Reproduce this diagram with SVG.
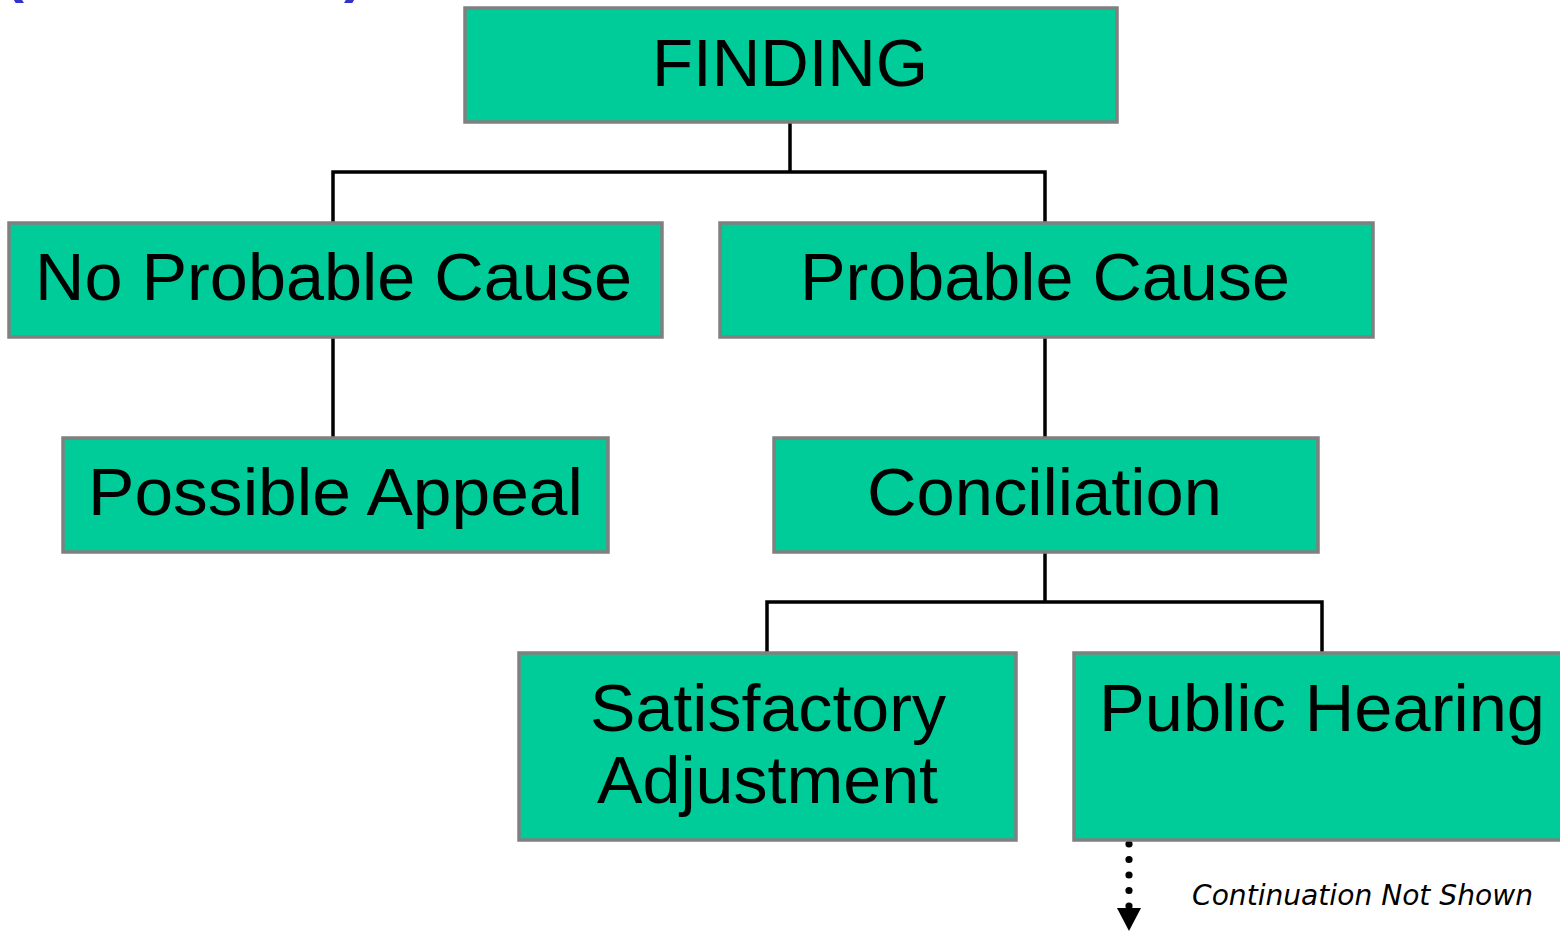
<svg xmlns="http://www.w3.org/2000/svg" width="1560" height="931" viewBox="0 0 1560 931">
<style>
.box{fill:#00CC99;stroke:#808080;stroke-width:3.5}
.lbl{font-family:"Liberation Sans",Arial,sans-serif;font-size:66px;fill:#000}
.conn{fill:none;stroke:#000;stroke-width:3.5;stroke-linecap:square}
.frag{font-family:"Liberation Sans",Arial,sans-serif;font-size:60px;font-weight:bold;fill:#3333CC}
.note{font-family:"DejaVu Sans",Verdana,sans-serif;font-style:italic;font-size:28px;fill:#000}
</style>
<rect width="1560" height="931" fill="#fff"/>
<g id="title-fragment">
<text class="frag" x="4" y="-9">(</text>
<text class="frag" x="344" y="-9">)</text>
</g>
<g id="connectors">
<path class="conn" d="M790,122 V172 M333,172 H1045 M333,172 V223 M1045,172 V223"/>
<path class="conn" d="M333,337 V438"/>
<path class="conn" d="M1045,337 V438"/>
<path class="conn" d="M1045,552 V602 M767,602 H1322 M767,602 V653 M1322,602 V653"/>
<g id="continuation" fill="#000">
<circle cx="1129" cy="844" r="3.6"/>
<circle cx="1129" cy="859.5" r="3.6"/>
<circle cx="1129" cy="875" r="3.6"/>
<circle cx="1129" cy="890.5" r="3.6"/>
<circle cx="1129" cy="906" r="3.6"/>
<polygon points="1117,908 1141,908 1129,931"/>
</g>
</g>
<g id="node-finding">
<rect class="box" x="465" y="8" width="652" height="114"/>
<text class="lbl" x="652" y="86" textLength="276" lengthAdjust="spacingAndGlyphs">FINDING</text>
</g>
<g id="node-no-probable-cause">
<rect class="box" x="9" y="223" width="653" height="114"/>
<text class="lbl" x="35" y="300" textLength="597" lengthAdjust="spacingAndGlyphs">No Probable Cause</text>
</g>
<g id="node-probable-cause">
<rect class="box" x="720" y="223" width="653" height="114"/>
<text class="lbl" x="800" y="300" textLength="490" lengthAdjust="spacingAndGlyphs">Probable Cause</text>
</g>
<g id="node-possible-appeal">
<rect class="box" x="63" y="438" width="545" height="114"/>
<text class="lbl" x="88" y="515" textLength="495" lengthAdjust="spacingAndGlyphs">Possible Appeal</text>
</g>
<g id="node-conciliation">
<rect class="box" x="774" y="438" width="544" height="114"/>
<text class="lbl" x="867" y="515" textLength="355" lengthAdjust="spacingAndGlyphs">Conciliation</text>
</g>
<g id="node-satisfactory-adjustment">
<rect class="box" x="519" y="653" width="497" height="187"/>
<text class="lbl" x="590" y="731" textLength="356" lengthAdjust="spacingAndGlyphs">Satisfactory</text>
<text class="lbl" x="597" y="803" textLength="341" lengthAdjust="spacingAndGlyphs">Adjustment</text>
</g>
<g id="node-public-hearing">
<rect class="box" x="1074" y="653" width="500" height="187"/>
<text class="lbl" x="1099" y="731" textLength="446" lengthAdjust="spacingAndGlyphs">Public Hearing</text>
</g>
<g id="note">
<text class="note" x="1192" y="905" textLength="341" lengthAdjust="spacingAndGlyphs">Continuation Not Shown</text>
</g>
</svg>
